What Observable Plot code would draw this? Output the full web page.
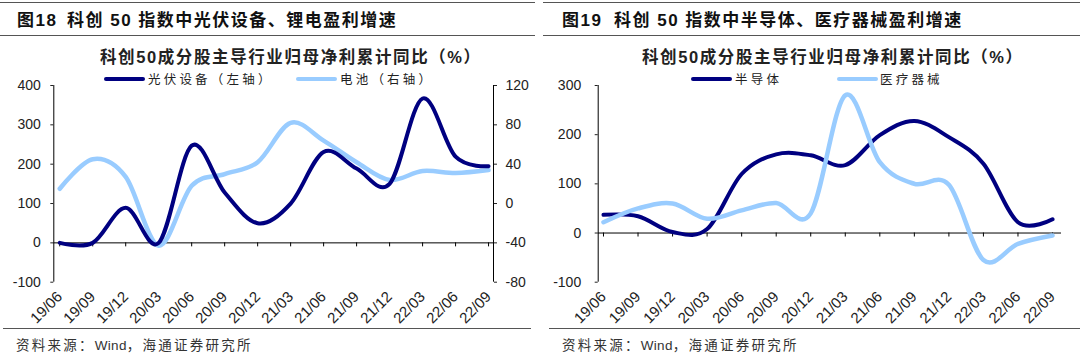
<!DOCTYPE html>
<html><head><meta charset="utf-8">
<script src="https://cdn.jsdelivr.net/npm/d3@7"></script>
<script src="https://cdn.jsdelivr.net/npm/@observablehq/plot@0.6"></script>
<style>
body{margin:0;background:#fff;}
#wrap{position:relative;width:1080px;height:357px;overflow:hidden;font-family:"Liberation Sans","Noto Sans CJK SC",sans-serif;color:#222;}
.rule{position:absolute;height:0;border-top:1.5px solid #555;}
.title{position:absolute;top:8px;font-family:"Liberation Sans","Noto Sans CJK SC",sans-serif;font-weight:bold;font-size:17px;letter-spacing:1.5px;color:#111;white-space:nowrap;line-height:26px;}
.sub{position:absolute;top:45px;font-family:"Liberation Sans","Noto Sans CJK SC",sans-serif;font-weight:bold;font-size:16.5px;letter-spacing:1.6px;color:#222;white-space:nowrap;line-height:24px;}
.leg{position:absolute;top:70px;font-family:"Noto Sans CJK SC",sans-serif;font-size:12.5px;letter-spacing:3.2px;color:#222;white-space:nowrap;line-height:18px;z-index:2;}
.sw{position:absolute;top:77px;height:4px;border-radius:2px;z-index:2;}
.src{position:absolute;top:336px;font-family:"Liberation Sans","Noto Sans CJK SC",sans-serif;font-size:13.5px;letter-spacing:2.25px;color:#333;white-space:nowrap;line-height:20px;}
.src .en{letter-spacing:0.3px;}
.panel{position:absolute;top:75px;}
</style>
</head>
<body>
<div id="wrap">
  <div class="rule" style="left:0;width:535px;top:2px"></div>
  <div class="rule" style="left:0;width:535px;top:35px"></div>
  <div class="rule" style="left:3px;width:528px;top:328px"></div>
  <div class="rule" style="left:543px;width:537px;top:2px"></div>
  <div class="rule" style="left:543px;width:537px;top:35px"></div>
  <div class="rule" style="left:549px;width:531px;top:328px"></div>

  <div class="title" style="left:17px">图18</div>
  <div class="title" style="left:67px">科创 50 指数中光伏设备、锂电盈利增速</div>
  <div class="title" style="left:562px">图19</div>
  <div class="title" style="left:614px">科创 50 指数中半导体、医疗器械盈利增速</div>

  <div class="sub" style="left:100px">科创50成分股主导行业归母净利累计同比（%）</div>
  <div class="sub" style="left:642px">科创50成分股主导行业归母净利累计同比（%）</div>

  <div id="leftPanel" class="panel" style="left:0"></div>
  <div id="rightPanel" class="panel" style="left:540px"></div>

  <div class="sw" style="left:104px;width:41px;background:#000080"></div>
  <div class="leg" style="left:148px">光伏设备（左轴）</div>
  <div class="sw" style="left:296px;width:41px;background:#99CCFF"></div>
  <div class="leg" style="left:340px">电池（右轴）</div>

  <div class="sw" style="left:691px;width:41px;background:#000080"></div>
  <div class="leg" style="left:735px">半导体</div>
  <div class="sw" style="left:837px;width:41px;background:#99CCFF"></div>
  <div class="leg" style="left:880px">医疗器械</div>

  <div class="src" style="left:16px">资料来源：<span class="en">Wind</span>，海通证券研究所</div>
  <div class="src" style="left:562px">资料来源：<span class="en">Wind</span>，海通证券研究所</div>
</div>
<script>
// ---- data ----
const periods = ["19/06","19/09","19/12","20/03","20/06","20/09","20/12","21/03","21/06","21/09","21/12","22/03","22/06","22/09"];
const pvEquip    = [0, 0, 89, 0, 247, 128, 50, 100, 231, 189, 150, 367, 219, 195];   // 光伏设备（左轴）
const battery    = [15, 45, 27, -43, 18, 30, 42, 82, 64, 42, 24, 33, 31, 34];        // 电池（右轴）
const semis      = [37, 34, 2, 8, 120, 160, 158, 138, 199, 228, 195, 141, 22, 28];    // 半导体
const medDevices = [22, 50, 60, 29, 46, 61, 40, 280, 144, 100, 98, -55, -22, -5];     // 医疗器械
const leftTicks  = [-100, 0, 100, 200, 300, 400];
const rightTicks = [-80, -40, 0, 40, 80, 120];
const panel2Ticks = [-100, 0, 100, 200, 300];

// ---- helpers ----
const xIdx = periods.map((_, i) => i);
const toLeft = d3.scaleLinear().domain([-80, 120]).range([-100, 400]);
const leftData = periods.map((p, i) => ({i, pv: pvEquip[i], bat: toLeft(battery[i])}));
const rightData = periods.map((p, i) => ({i, semi: semis[i], med: medDevices[i]}));
const fmt = d => String(d);
const style = {fontFamily: '"Liberation Sans", Arial, sans-serif', fontSize: "14px", color: "#222", background: "transparent", overflow: "visible"};

const xDomL = [-0.18, 13.15];
const left = Plot.plot({
  width: 535, height: 260,
  marginTop: 10, marginBottom: 53.3, marginLeft: 53.3, marginRight: 42,
  style,
  x: {type: "linear", domain: xDomL},
  y: {domain: [-100, 400]},
  marks: [
    Plot.ruleY([0], {stroke: "#000"}),
    Plot.ruleX(xIdx, {x: d => d, y1: 0, y2: 0, insetBottom: -4, stroke: "#000"}),
    Plot.ruleX([xDomL[0]], {stroke: "#000"}),
    Plot.ruleX([xDomL[1]], {stroke: "#000"}),
    Plot.axisY(leftTicks, {anchor: "left", tickSize: 3, tickPadding: 10, tickFormat: fmt, label: null}),
    Plot.axisY(rightTicks.map(toLeft), {anchor: "right", tickSize: 3, tickPadding: 9, tickFormat: d => fmt(Math.round(toLeft.invert(d))), label: null}),
    Plot.axisX(xIdx, {anchor: "bottom", tickSize: 0, tickPadding: 12, tickRotate: -45, fontSize: 15, tickFormat: i => periods[i], label: null}),
    Plot.line(leftData, {x: "i", y: "bat", curve: "cardinal", stroke: "#99CCFF", strokeWidth: 4.5}),
    Plot.line(leftData, {x: "i", y: "pv", curve: "cardinal", stroke: "#000080", strokeWidth: 4})
  ]
});
document.getElementById("leftPanel").appendChild(left);

const xDomR = [-0.153, 13.26];
const right = Plot.plot({
  width: 540, height: 260,
  marginTop: 10, marginBottom: 53.3, marginLeft: 57.7, marginRight: 19,
  style,
  x: {type: "linear", domain: xDomR},
  y: {domain: [-100, 300]},
  marks: [
    Plot.ruleY([0], {stroke: "#000"}),
    Plot.ruleX(xIdx, {x: d => d, y1: 0, y2: 0, insetBottom: -4, stroke: "#000"}),
    Plot.ruleX([xDomR[0]], {stroke: "#000"}),
    Plot.axisY(panel2Ticks, {anchor: "left", tickSize: 3, tickPadding: 14, tickFormat: fmt, label: null}),
    Plot.axisX(xIdx, {anchor: "bottom", tickSize: 0, tickPadding: 12, tickRotate: -45, fontSize: 15, tickFormat: i => periods[i], label: null}),
    Plot.line(rightData, {x: "i", y: "semi", curve: "cardinal", stroke: "#000080", strokeWidth: 4}),
    Plot.line(rightData, {x: "i", y: "med", curve: "cardinal", stroke: "#99CCFF", strokeWidth: 4.5})
  ]
});
document.getElementById("rightPanel").appendChild(right);
</script>
</body></html>
